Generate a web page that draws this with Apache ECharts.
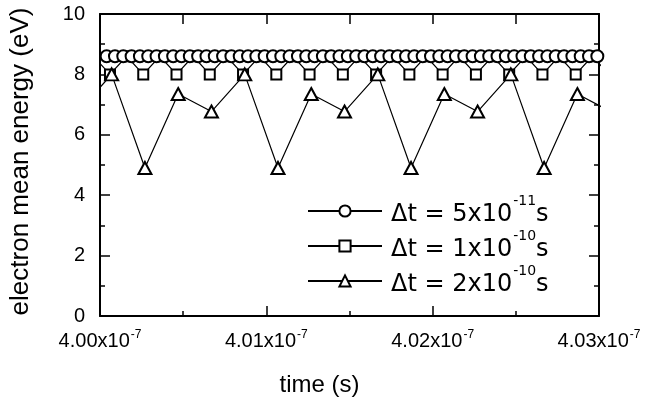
<!DOCTYPE html>
<html>
<head>
<meta charset="utf-8">
<script src="https://cdn.jsdelivr.net/npm/echarts@6/dist/echarts.min.js"></script>
<style>
  html, body { margin: 0; padding: 0; background: #fff; }
  #chart { width: 650px; height: 408px; }
</style>
</head>
<body>
<div id="chart"></div>
<script>
// time in ns (axis shows it as x10^-7 s)
const circleTimes = [
  400.04, 400.09, 400.14, 400.19, 400.24, 400.29, 400.34, 400.39, 400.44, 400.49,
  400.54, 400.59, 400.64, 400.69, 400.74, 400.79, 400.84, 400.89, 400.94, 400.99,
  401.04, 401.09, 401.14, 401.19, 401.24, 401.29, 401.34, 401.39, 401.44, 401.49,
  401.54, 401.59, 401.64, 401.69, 401.74, 401.79, 401.84, 401.89, 401.94, 401.99,
  402.04, 402.09, 402.14, 402.19, 402.24, 402.29, 402.34, 402.39, 402.44, 402.49,
  402.54, 402.59, 402.64, 402.69, 402.74, 402.79, 402.84, 402.89, 402.94, 402.99
];
const circleValues = [
  8.6, 8.6, 8.6, 8.6, 8.6, 8.6, 8.6, 8.6, 8.6, 8.6,
  8.6, 8.6, 8.6, 8.6, 8.6, 8.6, 8.6, 8.6, 8.6, 8.6,
  8.6, 8.6, 8.6, 8.6, 8.6, 8.6, 8.6, 8.6, 8.6, 8.6,
  8.6, 8.6, 8.6, 8.6, 8.6, 8.6, 8.6, 8.6, 8.6, 8.6,
  8.6, 8.6, 8.6, 8.6, 8.6, 8.6, 8.6, 8.6, 8.6, 8.6,
  8.6, 8.6, 8.6, 8.6, 8.6, 8.6, 8.6, 8.6, 8.6, 8.6
];
const squareTimes = [
  399.96, 400.06, 400.16, 400.26, 400.36, 400.46, 400.56, 400.66,
  400.76, 400.86, 400.96, 401.06, 401.16, 401.26, 401.36, 401.46,
  401.56, 401.66, 401.76, 401.86, 401.96, 402.06, 402.16, 402.26,
  402.36, 402.46, 402.56, 402.66, 402.76, 402.86, 402.96, 403.06
];
const squareValues = [
  8.6, 8.0, 8.6, 8.0, 8.6, 8.0, 8.6, 8.0,
  8.6, 8.0, 8.6, 8.0, 8.6, 8.0, 8.6, 8.0,
  8.6, 8.0, 8.6, 8.0, 8.6, 8.0, 8.6, 8.0,
  8.6, 8.0, 8.6, 8.0, 8.6, 8.0, 8.6, 8.0
];
const triangleTimes = [
  399.87, 400.07, 400.27, 400.47, 400.67, 400.87, 401.07, 401.27, 401.47,
  401.67, 401.87, 402.07, 402.27, 402.47, 402.67, 402.87, 403.07
];
const triangleValues = [
  6.77, 8.0, 4.9, 7.35, 6.77, 8.0, 4.9, 7.35, 6.77,
  8.0, 4.9, 7.35, 6.77, 8.0, 4.9, 7.35, 6.77
];
const seriesNames = ['dt5e-11', 'dt1e-10', 'dt2e-10'];
const legendBase = ['\u0394t = 5x10', '\u0394t = 1x10', '\u0394t = 2x10'];
const legendExp = ['-11', '-10', '-10'];
const legendUnit = 's';
const xTickExp = '-7';
const xTitle = 'time (s)';
const yTitle = 'electron mean energy (eV)';

function zip(a, b) { return a.map((t, i) => [t, b[i]]); }

const FONT = 'Liberation Sans, Arial, Helvetica, sans-serif';
const LFONT = 'DejaVu Sans, Verdana, sans-serif';

const chart = echarts.init(document.getElementById('chart'), null, { renderer: 'canvas' });

const axisLineStyle = { color: '#000', width: 2 };

const option = {
  animation: false,
  backgroundColor: '#fff',
  grid: { left: 98, right: 51, top: 14, bottom: 92 },
  legend: {
    orient: 'vertical',
    left: 307,
    top: 194,
    padding: 0,
    itemWidth: 74,
    itemHeight: 14,
    itemGap: 2,
    data: seriesNames,
    selectedMode: false,
    formatter: function (name) {
      const i = seriesNames.indexOf(name);
      return '{a|' + legendBase[i] + '}{sup|' + legendExp[i] + '}{n|' + legendUnit + '}';
    },
    textStyle: {
      color: '#000',
      rich: {
        a: { fontFamily: LFONT, fontSize: 24, height: 24, padding: [8, 0, 0, 4], color: '#000' },
        sup: { fontFamily: LFONT, fontSize: 14, height: 14, padding: [0, 0, 20, 1], color: '#000' },
        n: { fontFamily: LFONT, fontSize: 24, height: 24, padding: [8, 0, 0, 0], color: '#000' }
      }
    }
  },
  xAxis: [
    {
      type: 'value',
      position: 'bottom',
      min: 400, max: 403, interval: 1,
      name: xTitle,
      nameLocation: 'middle',
      nameGap: 57,
      nameTextStyle: { fontFamily: FONT, fontSize: 24, color: '#000', padding: [0, 60, 0, 0] },
      axisLine: { show: true, onZero: false, lineStyle: axisLineStyle },
      axisTick: { show: true, inside: true, length: 10, lineStyle: { color: '#000', width: 1.5 } },
      minorTick: { show: true, splitNumber: 2, length: 5, lineStyle: { color: '#000', width: 1.5 } },
      splitLine: { show: false },
      axisLabel: {
        margin: 13,
        color: '#000',
        formatter: function (v) { return '{m|' + (v / 100).toFixed(2) + 'x10}{s|' + xTickExp + '}'; },
        rich: {
          m: { fontFamily: FONT, fontSize: 20, lineHeight: 20, color: '#000' },
          s: { fontFamily: FONT, fontSize: 12, padding: [0, 0, 12, 1], color: '#000' }
        }
      }
    },
    {
      type: 'value',
      position: 'top',
      min: 400, max: 403, interval: 0.5,
      axisLine: { show: true, onZero: false, lineStyle: axisLineStyle },
      axisTick: { show: true, inside: true, length: 10, lineStyle: { color: '#000', width: 1.5 } },
      axisLabel: { show: false },
      splitLine: { show: false }
    }
  ],
  yAxis: [
    {
      type: 'value',
      position: 'left',
      min: 0, max: 10, interval: 2,
      name: yTitle,
      nameLocation: 'middle',
      nameGap: 66,
      nameTextStyle: { fontFamily: FONT, fontSize: 26, color: '#000', padding: [0, 0, 0, 7] },
      axisLine: { show: true, onZero: false, lineStyle: axisLineStyle },
      axisTick: { show: true, inside: true, length: 10, lineStyle: { color: '#000', width: 1.5 } },
      minorTick: { show: true, splitNumber: 2, length: 5, lineStyle: { color: '#000', width: 1.5 } },
      splitLine: { show: false },
      axisLabel: { margin: 15, fontFamily: FONT, fontSize: 20, color: '#000' }
    },
    {
      type: 'value',
      position: 'right',
      min: 0, max: 10, interval: 2,
      axisLine: { show: true, onZero: false, lineStyle: axisLineStyle },
      axisTick: { show: true, inside: true, length: 10, lineStyle: { color: '#000', width: 1.5 } },
      minorTick: { show: true, splitNumber: 2, length: 5, lineStyle: { color: '#000', width: 1.5 } },
      axisLabel: { show: false },
      splitLine: { show: false }
    }
  ],
  series: [
    {
      name: seriesNames[1],
      type: 'line',
      xAxisIndex: 0, yAxisIndex: 0,
      data: zip(squareTimes, squareValues),
      symbol: 'emptyRect',
      symbolSize: 10,
      showAllSymbol: true,
      clip: true,
      z: 2,
      color: '#000',
      lineStyle: { color: '#000', width: 1.2 },
      itemStyle: { color: '#000', borderColor: '#000', borderWidth: 1.3 }
    },
    {
      name: seriesNames[2],
      type: 'line',
      xAxisIndex: 0, yAxisIndex: 0,
      data: zip(triangleTimes, triangleValues),
      symbol: 'emptyTriangle',
      symbolSize: [13, 12],
      showAllSymbol: true,
      clip: true,
      z: 3,
      color: '#000',
      lineStyle: { color: '#000', width: 1.2 },
      itemStyle: { color: '#000', borderColor: '#000', borderWidth: 1.3 }
    },
    {
      name: seriesNames[0],
      type: 'line',
      xAxisIndex: 0, yAxisIndex: 0,
      data: zip(circleTimes, circleValues),
      symbol: 'emptyCircle',
      symbolSize: 12,
      showAllSymbol: true,
      clip: true,
      z: 4,
      color: '#000',
      lineStyle: { color: '#000', width: 1.2 },
      itemStyle: { color: '#000', borderColor: '#000', borderWidth: 1.3 }
    }
  ]
};

chart.setOption(option);
</script>
</body>
</html>
